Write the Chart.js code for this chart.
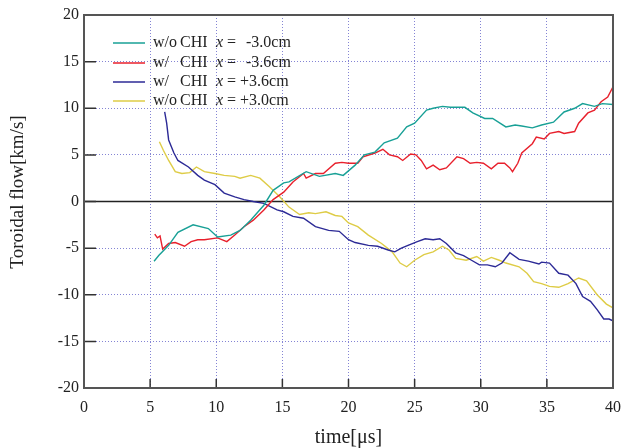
<!DOCTYPE html>
<html>
<head>
<meta charset="utf-8">
<script src="https://cdn.jsdelivr.net/npm/chart.js@4/dist/chart.umd.min.js"></script>
<style>
  html, body { margin: 0; padding: 0; background: #fff; }
  #wrap { width: 631px; height: 448px; }
</style>
</head>
<body>
<div id="wrap"><canvas id="flow" width="631" height="448"></canvas></div>
<script>
// time [us] and toroidal flow [km/s]
var tealT = [5.3, 5.65, 6.4, 7.1, 8.25, 9.4, 10.1, 11.1, 11.8, 12.6, 13.6, 14.3, 15.1, 15.5, 16.8, 17.8, 19.0, 19.6, 20.5, 21.2, 22.0, 22.7, 23.7, 24.4, 25.0, 25.9, 26.4, 27.1, 27.7, 28.8, 29.4, 30.3, 30.9, 31.9, 32.6, 33.1, 33.9, 34.6, 35.5, 36.3, 37.1, 37.7, 38.6, 39.2, 40.0];
var tealV = [-6.4, -5.8, -4.7, -3.3, -2.5, -2.9, -3.8, -3.6, -3.1, -2.0, -0.4, 1.2, 2.0, 2.1, 3.2, 2.7, 3.0, 2.8, 3.9, 5.0, 5.3, 6.3, 6.8, 8.0, 8.4, 9.8, 10.0, 10.2, 10.1, 10.1, 9.5, 8.9, 8.9, 8.0, 8.2, 8.1, 7.9, 8.2, 8.5, 9.6, 10.0, 10.5, 10.2, 10.5, 10.4];

var redT = [5.35, 5.55, 5.75, 5.95, 6.4, 6.9, 7.6, 8.1, 8.6, 9.1, 10.1, 10.8, 11.4, 12.1, 12.8, 13.6, 14.3, 15.1, 15.8, 16.6, 16.8, 17.5, 18.1, 19.0, 19.5, 20.0, 20.7, 21.1, 22.0, 22.6, 23.1, 23.7, 24.1, 24.7, 25.1, 25.5, 25.9, 26.4, 26.9, 27.4, 28.2, 28.7, 29.2, 29.7, 30.2, 30.8, 31.3, 31.8, 32.2, 32.4, 32.8, 33.1, 33.9, 34.2, 34.8, 35.2, 35.9, 36.3, 37.1, 37.4, 38.1, 38.6, 39.1, 39.6, 40.0];
var redV = [-3.5, -3.9, -3.7, -5.1, -4.5, -4.4, -4.8, -4.3, -4.1, -4.1, -3.9, -4.3, -3.6, -2.7, -2.0, -0.9, 0.2, 1.0, 2.1, 3.0, 2.5, 3.0, 3.0, 4.1, 4.2, 4.1, 4.1, 4.8, 5.2, 5.6, 5.0, 4.8, 4.4, 5.1, 5.0, 4.4, 3.5, 3.9, 3.4, 3.6, 4.8, 4.6, 4.1, 4.2, 4.1, 3.5, 4.1, 4.1, 3.6, 3.2, 4.1, 5.2, 6.2, 6.9, 6.7, 7.3, 7.5, 7.3, 7.5, 8.4, 9.5, 9.8, 10.7, 11.2, 12.3];

var blueT = [6.1, 6.25, 6.4, 6.8, 7.1, 7.9, 8.6, 9.1, 9.9, 10.6, 11.4, 12.1, 12.8, 13.6, 14.6, 15.1, 15.8, 16.6, 17.5, 18.5, 19.3, 20.0, 20.5, 21.5, 22.2, 23.0, 23.5, 24.0, 24.5, 25.2, 25.8, 26.4, 26.9, 27.4, 28.1, 28.7, 29.3, 29.9, 30.5, 31.1, 31.6, 32.2, 32.9, 33.6, 34.4, 34.6, 35.2, 35.9, 36.6, 37.2, 37.7, 38.3, 38.8, 39.3, 39.7, 40.0];
var blueV = [9.6, 8.4, 6.6, 5.2, 4.4, 3.7, 2.8, 2.3, 1.8, 0.9, 0.5, 0.2, 0.0, -0.2, -0.9, -1.1, -1.6, -1.8, -2.7, -3.1, -3.2, -4.1, -4.4, -4.7, -4.8, -5.2, -5.4, -5.0, -4.7, -4.3, -4.0, -4.1, -4.0, -4.5, -5.5, -5.8, -6.3, -6.8, -6.8, -7.0, -6.6, -5.5, -6.2, -6.4, -6.7, -6.5, -6.6, -7.7, -7.9, -8.8, -10.2, -10.7, -11.6, -12.6, -12.6, -12.8];

var yellowT = [5.7, 6.0, 6.4, 6.9, 7.4, 8.0, 8.5, 9.1, 9.9, 10.6, 11.4, 11.8, 12.6, 13.3, 14.0, 14.8, 15.5, 16.3, 17.0, 17.5, 18.3, 19.0, 19.5, 20.0, 20.7, 21.5, 22.5, 23.3, 23.9, 24.4, 25.0, 25.7, 26.4, 27.1, 27.6, 28.1, 28.9, 29.7, 30.2, 30.8, 31.4, 31.9, 32.9, 33.5, 34.0, 34.6, 35.2, 35.9, 36.6, 37.4, 38.0, 38.8, 39.5, 40.0];
var yellowV = [6.4, 5.5, 4.4, 3.2, 3.0, 3.1, 3.7, 3.2, 3.0, 2.8, 2.7, 2.5, 2.8, 2.5, 1.6, 0.5, -0.6, -1.4, -1.2, -1.3, -1.1, -1.5, -1.6, -2.3, -2.7, -3.6, -4.5, -5.4, -6.6, -7.0, -6.3, -5.7, -5.4, -4.8, -5.2, -6.1, -6.3, -5.9, -6.4, -6.0, -6.3, -6.6, -7.0, -7.7, -8.6, -8.8, -9.1, -9.2, -8.8, -8.2, -8.5, -10.0, -11.0, -11.4];

var xTicks = [0, 5, 10, 15, 20, 25, 30, 35, 40];
var yTicks = [-20, -15, -10, -5, 0, 5, 10, 15, 20];

var series = [
  { t: tealT, v: tealV, color: 'rgb(24,160,150)', name: 'w/o', pos: '-3.0cm' },
  { t: redT, v: redV, color: 'rgb(232,32,44)', name: 'w/', pos: '-3.6cm' },
  { t: blueT, v: blueV, color: 'rgb(44,42,150)', name: 'w/', pos: '+3.6cm' },
  { t: yellowT, v: yellowV, color: 'rgb(222,204,70)', name: 'w/o', pos: '+3.0cm' }
];

function pts(t, v) {
  return t.map(function (x, i) { return { x: x, y: v[i] }; });
}

var serif = "'Liberation Serif', 'DejaVu Serif', serif";

// frame, zero line and the inward tick marks
var framePlugin = {
  id: 'frame',
  beforeDatasetsDraw: function (chart) {
    var c = chart.ctx, a = chart.chartArea, y0 = chart.scales.y.getPixelForValue(0);
    c.save();
    c.strokeStyle = '#222';
    c.lineWidth = 1.5;
    c.beginPath();
    c.moveTo(a.left, y0);
    c.lineTo(a.right, y0);
    c.stroke();
    c.restore();
  },
  afterDatasetsDraw: function (chart) {
    var c = chart.ctx, a = chart.chartArea;
    var xs = chart.scales.x, ys = chart.scales.y;
    c.save();
    c.strokeStyle = '#333';
    c.lineWidth = 1.5;
    c.beginPath();
    xTicks.forEach(function (v) {
      var px = xs.getPixelForValue(v);
      c.moveTo(px, a.bottom);
      c.lineTo(px, a.bottom - 9);
    });
    yTicks.forEach(function (v) {
      var py = ys.getPixelForValue(v);
      c.moveTo(a.left, py);
      c.lineTo(a.left + 12, py);
    });
    c.stroke();
    c.strokeStyle = '#555';
    c.lineWidth = 2;
    c.strokeRect(a.left, a.top, a.right - a.left, a.bottom - a.top);

    // y axis title, sits a little above the plot's middle in the figure
    c.fillStyle = '#222';
    c.font = '19px ' + serif;
    c.textAlign = 'center';
    c.textBaseline = 'middle';
    c.translate(18, 192);
    c.rotate(-Math.PI / 2);
    c.fillText('Toroidal flow[km/s]', 0, 0);
    c.restore();
  }
};

// legend inside the plot, with an italic x
var legendPlugin = {
  id: 'innerLegend',
  afterDraw: function (chart) {
    var c = chart.ctx;
    var rows = [43, 63, 82, 101];
    c.save();
    c.textBaseline = 'middle';
    c.textAlign = 'left';
    series.forEach(function (s, i) {
      var y = rows[i];
      c.strokeStyle = s.color;
      c.lineWidth = 1.5;
      c.beginPath();
      c.moveTo(113, y);
      c.lineTo(145, y);
      c.stroke();
      c.fillStyle = '#222';
      c.font = '16px ' + serif;
      c.fillText(s.name, 153, y);
      c.fillText('CHI', 180, y);
      c.fillText('=', 227, y);
      c.fillText(s.pos, s.pos.charAt(0) === '+' ? 240 : 246, y);
      c.font = 'italic 16px ' + serif;
      c.fillText('x', 216, y);
    });
    c.restore();
  }
};

var gridColor = 'rgba(110,110,205,0.85)';

new Chart(document.getElementById('flow'), {
  type: 'line',
  data: {
    datasets: series.map(function (s) {
      return {
        label: s.name + ' CHI x = ' + s.pos,
        data: pts(s.t, s.v),
        borderColor: s.color,
        borderWidth: 1.4,
        pointRadius: 0,
        tension: 0,
        fill: false
      };
    })
  },
  options: {
    responsive: false,
    animation: false,
    layout: { padding: { top: 15, right: 8, left: 0, bottom: 0 } },
    plugins: { legend: { display: false }, tooltip: { enabled: false } },
    scales: {
      x: {
        type: 'linear',
        min: 0,
        max: 40,
        afterFit: function (s) { s.height = 60; },
        afterBuildTicks: function (s) { s.ticks = xTicks.map(function (v) { return { value: v }; }); },
        grid: { color: gridColor, lineWidth: 1, drawTicks: false },
        border: { display: false, dash: [1, 2] },
        ticks: { color: '#222', padding: 10, maxRotation: 0, font: { family: serif, size: 16 } },
        title: { display: true, text: 'time[μs]', color: '#222', padding: { top: 0, bottom: -2 }, font: { family: serif, size: 20 } }
      },
      y: {
        type: 'linear',
        min: -20,
        max: 20,
        afterFit: function (s) { s.width = 84; },
        afterBuildTicks: function (s) { s.ticks = yTicks.map(function (v) { return { value: v }; }); },
        grid: { color: gridColor, lineWidth: 1, drawTicks: false },
        border: { display: false, dash: [1, 2] },
        ticks: { color: '#222', padding: 5, font: { family: serif, size: 16 } }
      }
    }
  },
  plugins: [framePlugin, legendPlugin]
});
</script>
</body>
</html>
